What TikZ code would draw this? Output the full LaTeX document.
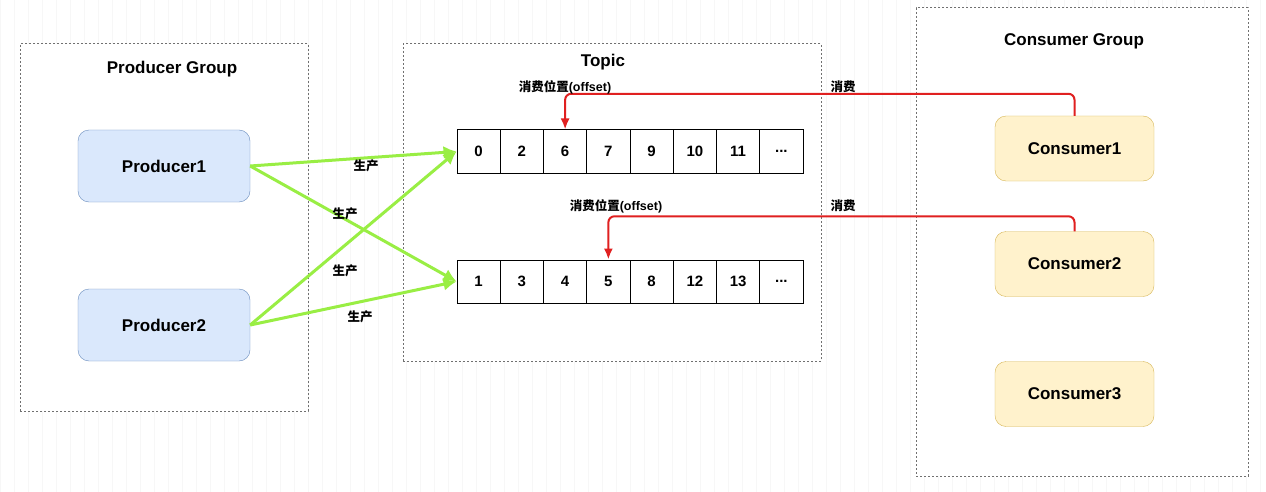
\documentclass[tikz,border=0pt]{standalone}
\usepackage{fontspec}
\setmainfont{Liberation Sans}
\newfontfamily\cjk{Noto Sans CJK SC}
\usetikzlibrary{arrows.meta}
\usetikzlibrary{positioning}
\definecolor{prodfill}{HTML}{DAE8FC}
\definecolor{proddraw}{HTML}{6C8EBF}
\definecolor{consfill}{HTML}{FFF2CC}
\definecolor{consdraw}{HTML}{D6B656}
\definecolor{prodline}{HTML}{99EE44}
\definecolor{consline}{HTML}{E02020}
\definecolor{groupline}{HTML}{707070}

\begin{document}
\begin{tikzpicture}[x=1pt,y=-1pt]
      \tikzstyle{every node}=[font=\bfseries]
      \tikzstyle{group}=[draw=groupline,fill=white,line width=1pt,dash pattern=on 2pt off 2pt]
      \tikzstyle{title}=[font=\fontsize{17}{20}\selectfont\bfseries]
      \tikzstyle{prod}=[draw=proddraw,fill=prodfill,rounded corners=11pt,minimum width=172pt,minimum height=72pt,font=\fontsize{17}{20}\selectfont\bfseries]
      \tikzstyle{cons}=[draw=consdraw,fill=consfill,rounded corners=11pt,minimum width=159pt,minimum height=65pt,font=\fontsize{17}{20}\selectfont\bfseries]
      \tikzstyle{cell}=[draw,line width=1pt,minimum width=43.25pt,minimum height=43pt,inner sep=0pt,font=\fontsize{15}{17}\selectfont\bfseries]
      \tikzstyle{tag}=[font=\fontsize{12.5}{14}\selectfont\bfseries]
      \tikzstyle{prodarrow}=[-{Latex[length=13pt,width=13pt]},draw=prodline,line width=3pt]
      \tikzstyle{consarrow}=[-{Latex[length=11pt,width=9pt]},draw=consline,line width=2pt,rounded corners=6pt]

      \useasboundingbox (0,0) rectangle (1266,492);
      \fill[white] (0,0) rectangle (1266,492);
      \draw[black!3,line width=0.5pt,step=14] (0,0) grid (1266,492);

      \node[group,minimum width=288pt,minimum height=367pt] (pgroup) at (164,227.5) {};
      \node[group,minimum width=418pt,minimum height=317pt] (topic) at (612,202.5) {};
      \node[group,minimum width=332pt,minimum height=468pt] (cgroup) at (1082,242) {};

      \node[title] (ptitle) at (172,69) {Producer Group};
      \node[title] (ttitle) at (603,62) {Topic};
      \node[title] (ctitle) at (1074,41) {Consumer Group};

      \node[prod] (p1) at (164,166) {Producer1};
      \node[prod] (p2) at (164,325) {Producer2};

      \node[cons] (c1) at (1074.5,148.5) {Consumer1};
      \node[cons] (c2) at (1074.5,264) {Consumer2};
      \node[cons] (c3) at (1074.5,394) {Consumer3};

      \foreach \v [count=\i] in {0,2,6,7,9,10,11}
        \node[cell] (a\i) at ({457+43.25*(\i-0.5)},151.5) {\v};
      \node[cell] (a8) at ({457+43.25*7.5},151.5) {...};
      \foreach \v [count=\i] in {1,3,4,5,8,12,13}
        \node[cell] (b\i) at ({457+43.25*(\i-0.5)},281.5) {\v};
      \node[cell] (b8) at ({457+43.25*7.5},281.5) {...};

      \draw[prodarrow] (p1.east) -- (a1.west);
      \draw[prodarrow] (p1.east) -- (b1.west);
      \draw[prodarrow] (p2.east) -- (a1.west);
      \draw[prodarrow] (p2.east) -- (b1.west);

      \node[tag] (l1) at (366,166) {\cjk 生产};
      \node[tag] (l2) at (345,214) {\cjk 生产};
      \node[tag] (l3) at (345,271) {\cjk 生产};
      \node[tag] (l4) at (360,317) {\cjk 生产};

      \draw[consarrow] (c1.north) -- ++(0,-22) -| (a3.north);
      \draw[consarrow] (c2.north) -- ++(0,-15) -| (b4.north);

      \node[tag] (o1) at (565,87) {{\cjk 消费位置}(offset)};
      \node[tag] (o2) at (616,206) {{\cjk 消费位置}(offset)};
      \node[tag] (u1) at (843,87) {\cjk 消费};
      \node[tag] (u2) at (843,206) {\cjk 消费};
    \end{tikzpicture}
\end{document}
